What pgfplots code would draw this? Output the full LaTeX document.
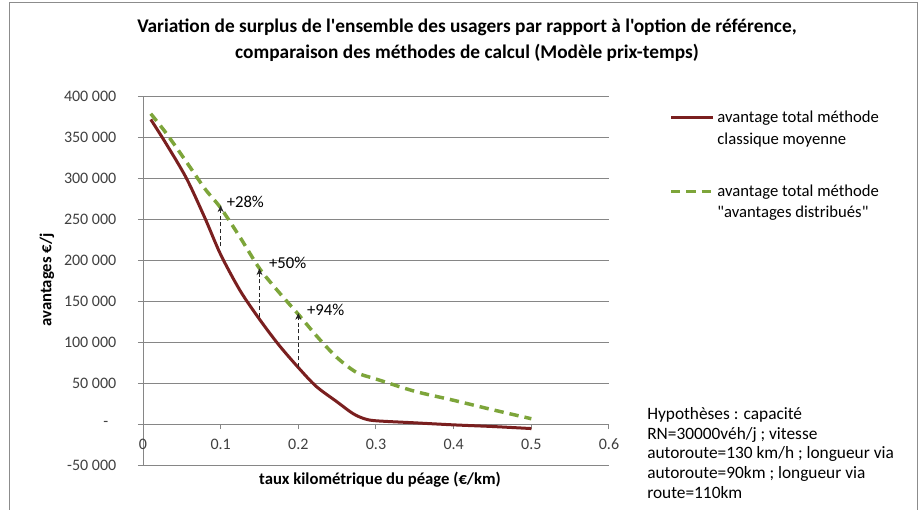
\documentclass[border=0pt]{standalone}
\usepackage{fontspec}
\setmainfont{Carlito}[Ligatures=TeXOff]
\usepackage{pgfplots}
\pgfplotsset{compat=1.18}
\usetikzlibrary{arrows.meta}
\definecolor{redline}{RGB}{122,31,31}
\definecolor{greenline}{RGB}{125,165,58}
\definecolor{gridgray}{RGB}{134,134,134}
\definecolor{framegray}{RGB}{140,140,140}
\definecolor{ticktext}{RGB}{64,64,64}
\begin{document}
\begin{tikzpicture}
\useasboundingbox (0,0) rectangle (691.5pt,-382.5pt);
\fill[white] (0,0) rectangle (691.5pt,-382.5pt);
\draw[framegray, line width=0.75pt] (6.75pt,-383pt) -- (6.75pt,-2.25pt) -- (687.75pt,-2.25pt) -- (687.75pt,-383pt);
\node[font=\fontsize{14.5}{19.5}\selectfont\bfseries, align=center, inner sep=0pt] at (350.25pt,-30pt)
  {Variation de surplus de l'ensemble des usagers par rapport à l'option de référence,\\comparaison des méthodes de calcul (Modèle prix-temps)};
\node[font=\fontsize{13}{14.7}\selectfont, align=left, anchor=north west, inner sep=0pt] at (485.25pt,-305.5pt)
  {Hypothèses : capacité\\RN=30000véh/j ; vitesse\\autoroute=130 km/h ; longueur via\\autoroute=90km ; longueur via\\route=110km};
\begin{axis}[
  at={(107.25pt,-348.75pt)}, anchor=south west,
  scale only axis, width=349.5pt, height=276.375pt,
  xmin=0, xmax=0.6, ymin=-50000, ymax=400000,
  axis x line=middle, axis y line=left,
  axis line style={gridgray, -, line width=0.75pt},
  hide obscured x ticks=false,
  scaled y ticks=false, scaled x ticks=false,
  xtick={0,0.1,0.2,0.3,0.4,0.5,0.6},
  xticklabels={0,0.1,0.2,0.3,0.4,0.5,0.6},
  ytick={-50000,0,50000,100000,150000,200000,250000,300000,350000,400000},
  yticklabels={-50 000,-\hphantom{0},50 000,100 000,150 000,200 000,250 000,300 000,350 000,400 000},
  ymajorgrids, grid style={gridgray, line width=0.75pt},
  tick style={gridgray, line width=0.75pt},
  tick align=outside, major tick length=3.75pt,
  minor tick num=0,
  tick label style={font=\fontsize{12}{14}\selectfont, text=ticktext},
  yticklabel style={xshift=-12.75pt},
  xticklabel style={yshift=-3.75pt},
  xlabel={taux kilométrique du péage (€/km)},
  ylabel={avantages €/j},
  xlabel style={font=\fontsize{12.5}{15}\selectfont\bfseries, at={(axis description cs:0.5086,-0.0407)}, anchor=center},
  ylabel style={font=\fontsize{12.5}{15}\selectfont\bfseries, at={(axis description cs:-0.206,0.502)}, anchor=center},
  legend style={draw=none, fill=none, at={(1.1288,0.969)}, anchor=north west,
    font=\fontsize{12.5}{16.2}\selectfont, row sep=25pt, inner sep=0pt,
    cells={align=left, anchor=west}},
  legend image code/.code={\path[draw=none, fill=none] (0pt,-8.1pt) rectangle (31.5pt,8.1pt); \draw[#1] (0pt,8.1pt) -- (31.5pt,8.1pt);},
  clip=false,
]
\addplot[redline, line width=2.25pt, smooth] coordinates {
(0.01,372000) (0.03,342000) (0.056,300000) (0.08,251000) (0.1,207000)
(0.125,163000) (0.15,128000) (0.175,96500) (0.2,69000) (0.223,46000)
(0.25,27000) (0.27,13000) (0.285,6500) (0.3,4000) (0.35,1500)
(0.4,-1000) (0.45,-3000) (0.5,-5500)};
\addlegendentry{avantage total méthode\\classique moyenne}
\addplot[greenline, line width=2.6pt, smooth, dash pattern=on 7pt off 4.5pt] coordinates {
(0.01,379000) (0.03,355000) (0.056,320000) (0.08,287000) (0.1,264000)
(0.125,228000) (0.15,190000) (0.175,161000) (0.2,134000) (0.225,106000)
(0.25,81000) (0.275,63000) (0.3,55000) (0.35,40000) (0.4,29000)
(0.45,17500) (0.5,6500)};
\addlegendentry{avantage total méthode\\"avantages distribués"}
\addplot[black!85, line width=0.6pt, densely dashed, -{Stealth[length=5pt,width=4.5pt]}, forget plot] coordinates {(0.1,217000) (0.1,267000)};
\addplot[black!85, line width=0.6pt, densely dashed, -{Stealth[length=5pt,width=4.5pt]}, forget plot] coordinates {(0.15,131000) (0.15,190000)};
\addplot[black!85, line width=0.6pt, densely dashed, -{Stealth[length=5pt,width=4.5pt]}, forget plot] coordinates {(0.2,70000) (0.2,135500)};
\node[anchor=west, inner sep=0pt, font=\fontsize{12.5}{15}\selectfont] at (axis cs:0.1075,271000) {+28\%};
\node[anchor=west, inner sep=0pt, font=\fontsize{12.5}{15}\selectfont] at (axis cs:0.162,196500) {+50\%};
\node[anchor=west, inner sep=0pt, font=\fontsize{12.5}{15}\selectfont] at (axis cs:0.211,139700) {+94\%};
\end{axis}
\end{tikzpicture}
\end{document}
